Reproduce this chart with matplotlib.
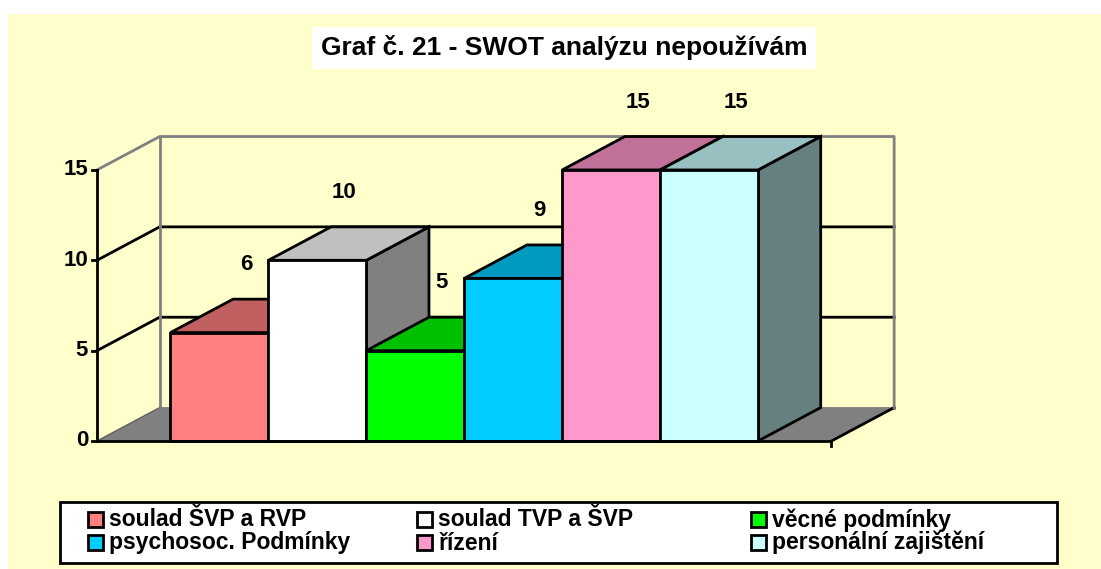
import matplotlib
matplotlib.use("Agg")
import matplotlib.pyplot as plt
from matplotlib.patches import Polygon, Rectangle

# data
categories = ["soulad ŠVP a RVP", "soulad TVP a ŠVP", "věcné podmínky",
              "psychosoc. Podmínky", "řízení", "personální zajištění"]
values = [6, 10, 5, 9, 15, 15]
title = "Graf č. 21 - SWOT analýzu nepoužívám"
yticks = [0, 5, 10, 15]

# colours (front, top, side)
front_col = ["#FF8080", "#FFFFFF", "#00FF00", "#00CCFF", "#FF99CC", "#CCFFFF"]
top_col = ["#C06060", "#C0C0C0", "#00C000", "#0099C0", "#C07099", "#99C0C0"]
side_col = ["#804040", "#808080", "#008000", "#006680", "#804D66", "#668080"]

W, H = 1101, 569
fig = plt.figure(figsize=(W / 100, H / 100), dpi=100)
fig.patch.set_facecolor("white")
fig.patches.append(Rectangle((8 / W, 0), 1, (H - 14) / H, transform=fig.transFigure,
                             facecolor="#FFFFCC", edgecolor="none", zorder=-10))

# axes spans the whole figure; oblique projection built in data units
ax = fig.add_axes([0, 0, 1, 1])
ax.set_facecolor("none")
ax.axis("off")
px_x = 97.93      # pixels per bar
px_y = 18.07      # pixels per value unit
x0_px, y0_px = 97, H - 441
ax.set_xlim(-0.75 - x0_px / px_x, -0.75 + (W - x0_px) / px_x)
ax.set_ylim(-y0_px / px_y, (H - y0_px) / px_y)

DX, DY = 0.64, 1.85     # depth offset
n = len(values)
xl, xr = -0.75, n + 0.75
ymax = max(yticks)

# floor
ax.add_patch(Polygon([(xl, 0), (xr, 0), (xr + DX, DY), (xl + DX, DY)], closed=True,
                     facecolor="#808080", edgecolor="none", zorder=1))
ax.plot([xl, xl + DX], [0, DY], color="#606060", lw=1, zorder=2)
ax.plot([xl + DX, xr + DX], [DY, DY], color="#808080", lw=2, zorder=2)
ax.plot([xr, xr + DX], [0, DY], color="black", lw=2, zorder=2)

# back wall & left wall gridlines
for v in yticks[1:-1]:
    ax.plot([xl, xl + DX, xr + DX], [v, v + DY, v + DY], color="black", lw=2, zorder=2)
ax.plot([xl, xl + DX, xr + DX, xr + DX], [ymax, ymax + DY, ymax + DY, DY],
        color="#808080", lw=2, zorder=2)
ax.plot([xl + DX, xl + DX], [DY, ymax + DY], color="#808080", lw=2, zorder=2)

# bars
z = 3
for i, v in enumerate(values):
    a, b = i, i + 1
    side = [(b, 0), (b, v), (b + DX, v + DY), (b + DX, DY)]
    top = [(a, v), (b, v), (b + DX, v + DY), (a + DX, v + DY)]
    ax.add_patch(Polygon(side, closed=True, facecolor=side_col[i], edgecolor="black",
                         lw=2, joinstyle="miter", zorder=z))
    ax.add_patch(Polygon(top, closed=True, facecolor=top_col[i], edgecolor="black",
                         lw=2, joinstyle="miter", zorder=z + 1))
    ax.add_patch(Rectangle((a, 0), 1, v, facecolor=front_col[i], edgecolor="black",
                           lw=2, zorder=z + 2))
    z += 3
    ax.text(i + 0.45 + DX / 2, v + DY + 1.9, str(v), ha="center", va="center",
            fontsize=16, fontweight="bold", family="Liberation Sans", zorder=50)

# axes lines
ax.plot([xl, xl], [0, ymax], color="black", lw=2, zorder=40)
ax.plot([xl, xr], [0, 0], color="black", lw=2, zorder=40)
ax.plot([xr, xr], [0, -0.3], color="black", lw=2, zorder=40)
for v in yticks:
    ax.plot([xl - 0.05, xl], [v, v], color="black", lw=2, zorder=40)
    ax.text(xl - 0.09, v, str(v), ha="right", va="center", fontsize=16,
            fontweight="bold", family="Liberation Sans")

# title
fig.text(564 / W, 1 - 48 / H, title, ha="center", va="center", fontsize=19,
         fontweight="bold", family="Liberation Sans",
         bbox=dict(boxstyle="square,pad=0.32", facecolor="white", edgecolor="none"))

# legend
fig.patches.append(Rectangle((60 / W, 1 - 563 / H), (1057 - 60) / W, (563 - 502) / H,
                             transform=fig.transFigure, facecolor="white",
                             edgecolor="black", lw=2, zorder=5))
col_x = [88, 417, 751]
row_y = [519, 542]
for i, lab in enumerate(categories):
    cx = col_x[i % 3]
    cy = row_y[i // 3]
    fig.patches.append(Rectangle((cx / W, 1 - (cy + 7.5) / H), 15 / W, 15 / H,
                                 transform=fig.transFigure, facecolor=front_col[i],
                                 edgecolor="black", lw=2, zorder=6))
    fig.text((cx + 21) / W, 1 - (cy + 7.5) / H, lab, ha="left", va="baseline",
             fontsize=16.5, fontweight="bold", family="Liberation Sans", zorder=7)

fig.savefig("out.png", dpi=100)
